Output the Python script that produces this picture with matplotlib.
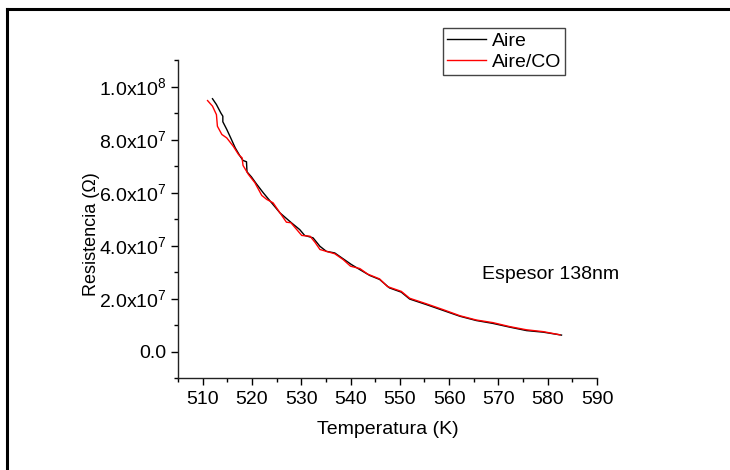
import matplotlib
matplotlib.use("Agg")
import matplotlib.pyplot as plt
from matplotlib.lines import Line2D
from matplotlib.ticker import MultipleLocator, FuncFormatter

plt.rcParams["font.family"] = ["Liberation Sans", "DejaVu Sans"]
plt.rcParams["mathtext.fontset"] = "custom"
plt.rcParams["mathtext.rm"] = "Liberation Sans"
plt.rcParams["mathtext.it"] = "Liberation Sans:italic"

# Aire
temp_aire = [512.0, 512.8, 513.7, 514.1, 514.1, 514.9, 515.7, 516.6, 517.6, 518.2,
             518.9, 519.0, 519.9, 520.9, 522.3, 524.0, 525.7, 528.0, 529.7, 530.7,
             532.4, 533.8, 535.1, 536.8, 538.5, 540.2, 541.9, 543.9, 545.9, 547.9,
             550.3, 552.0, 555.4, 558.8, 562.2, 565.5, 568.9, 572.3, 575.7, 579.1,
             582.8]
res_aire = [9.54e7, 9.32e7, 9.00e7, 8.88e7, 8.67e7, 8.38e7, 8.06e7, 7.69e7, 7.37e7, 7.21e7,
            7.16e7, 6.78e7, 6.59e7, 6.33e7, 5.99e7, 5.61e7, 5.23e7, 4.86e7, 4.60e7, 4.38e7,
            4.29e7, 3.97e7, 3.78e7, 3.72e7, 3.50e7, 3.28e7, 3.09e7, 2.87e7, 2.72e7, 2.40e7,
            2.24e7, 1.98e7, 1.77e7, 1.55e7, 1.33e7, 1.17e7, 1.06e7, 0.92e7, 0.79e7, 0.73e7,
            0.62e7]

# Aire/CO
temp_co = [511.0, 512.0, 512.8, 513.0, 513.9, 514.9, 516.2, 517.3, 518.0, 518.2,
           519.3, 520.6, 522.0, 523.0, 524.3, 525.7, 527.0, 527.9, 529.1, 530.1,
           531.8, 532.8, 533.8, 535.1, 536.8, 538.5, 540.0, 541.9, 543.5, 545.9,
           547.5, 550.3, 552.0, 555.4, 558.8, 562.2, 565.5, 568.9, 572.3, 575.7,
           579.1, 582.5]
res_co = [9.47e7, 9.26e7, 8.94e7, 8.50e7, 8.19e7, 8.06e7, 7.75e7, 7.43e7, 7.31e7, 7.02e7,
          6.68e7, 6.37e7, 5.89e7, 5.74e7, 5.61e7, 5.23e7, 4.88e7, 4.86e7, 4.60e7, 4.38e7,
          4.35e7, 4.12e7, 3.85e7, 3.78e7, 3.69e7, 3.47e7, 3.22e7, 3.13e7, 2.92e7, 2.74e7,
          2.45e7, 2.27e7, 2.01e7, 1.80e7, 1.58e7, 1.35e7, 1.19e7, 1.09e7, 0.94e7, 0.82e7,
          0.75e7, 0.63e7]


def fmt_y(v, pos):
    if abs(v) < 1:
        return "0.0"
    exp = 0
    m = v
    while abs(m) >= 10:
        m /= 10
        exp += 1
    return "%.1fx10$^{%d}$" % (m, exp)


fig = plt.figure(figsize=(7.3, 4.7), dpi=100)
ax = fig.add_axes([0.2438, 0.1957, 0.5740, 0.6766])

ax.plot(temp_aire, res_aire, color="black", linewidth=1.0, label="Aire")
ax.plot(temp_co, res_co, color="red", linewidth=1.0, label="Aire/CO")

ax.set_xlim(505, 590)
ax.set_ylim(-1e7, 1.1e8)
ax.xaxis.set_major_locator(MultipleLocator(10))
ax.xaxis.set_minor_locator(MultipleLocator(5))
ax.yaxis.set_major_locator(MultipleLocator(2e7))
ax.yaxis.set_minor_locator(MultipleLocator(1e7))
ax.yaxis.set_major_formatter(FuncFormatter(fmt_y))

for s in ["top", "right"]:
    ax.spines[s].set_visible(False)
for s in ["left", "bottom"]:
    ax.spines[s].set_linewidth(1.0)
    ax.spines[s].set_color("#222222")

ax.tick_params(which="major", direction="out", length=5, width=1, labelsize=14, pad=3)
ax.tick_params(axis="x", which="major", pad=4)
ax.tick_params(which="minor", direction="out", length=3, width=1)

ax.set_xlabel("Temperatura (K)", fontsize=14, labelpad=10)
ax.set_ylabel("Resistencia (\u03a9)", fontsize=13)
ax.yaxis.set_label_coords(-0.186, 0.453)

ax.text(0.726, 0.324, "Espesor 138nm", transform=ax.transAxes, fontsize=14,
        ha="left", va="center")

fig.legend(loc="upper left", bbox_to_anchor=(0.607, 0.94), fontsize=14,
           frameon=True, fancybox=False, framealpha=1, edgecolor="#444444",
           handlelength=2.0, handletextpad=0.3, borderpad=0.2,
           labelspacing=0.2, borderaxespad=0)

# frame around the figure (only top/left visible in the picture)
fig.add_artist(Line2D([7 / 730, 7 / 730], [0, 1 - 9 / 470], color="black", linewidth=2.2))
fig.add_artist(Line2D([7 / 730, 1], [1 - 9 / 470, 1 - 9 / 470], color="black", linewidth=2.2))

plt.savefig("out.png", dpi=100)
